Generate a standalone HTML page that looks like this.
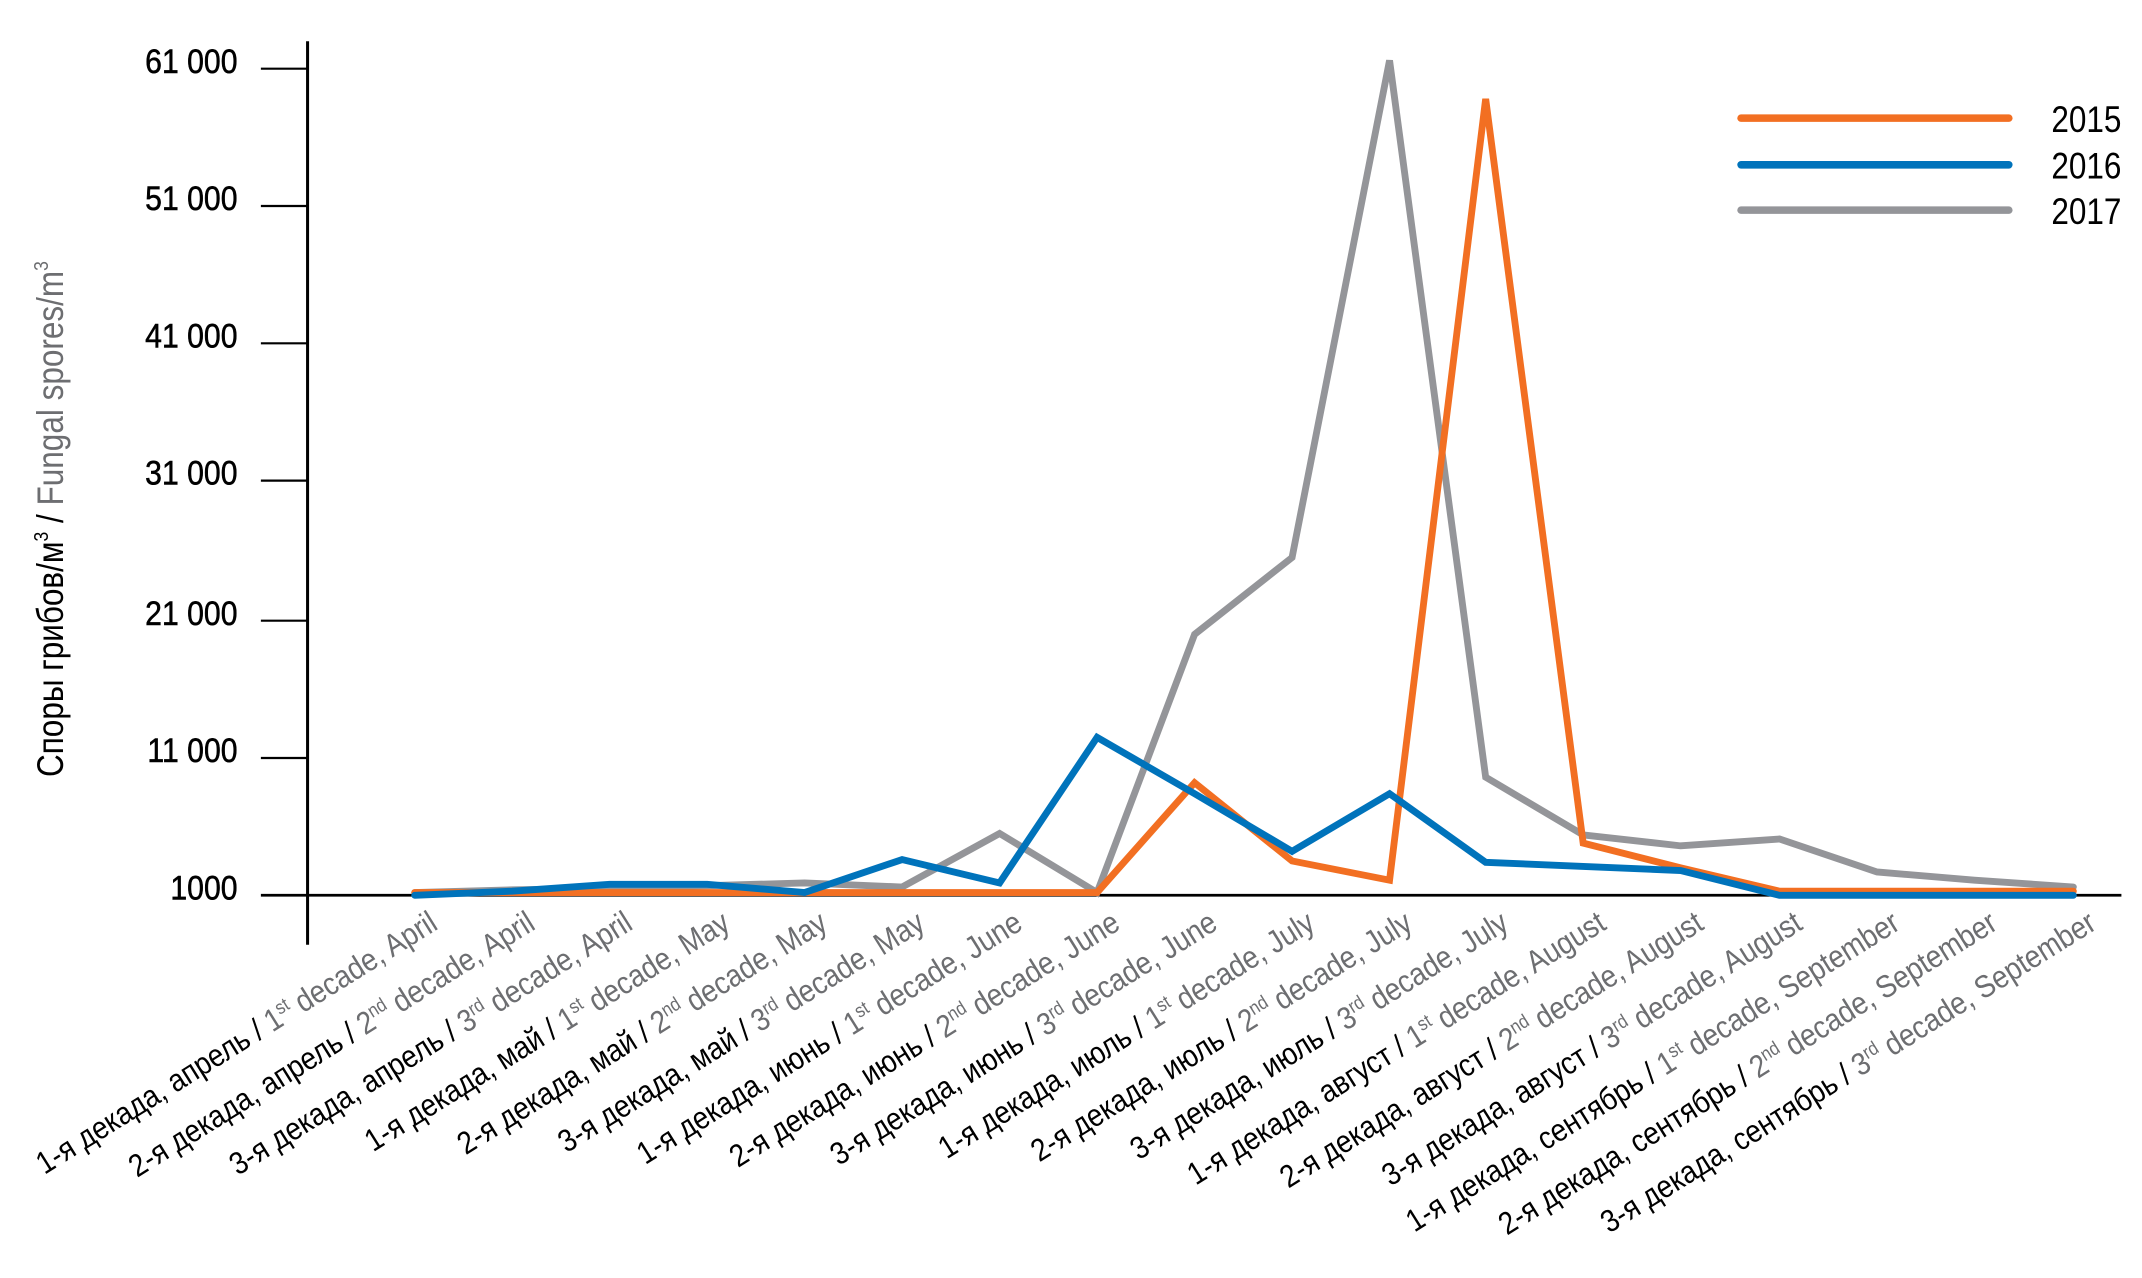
<!DOCTYPE html>
<html><head><meta charset="utf-8"><style>
html,body{margin:0;padding:0;background:#fff;}
svg{display:block;}
text{font-family:"Liberation Sans",sans-serif;}
.lbl{font-size:23px;fill:#000;}
.en{fill:#6d6e71;}
</style></head><body>
<svg width="2142" height="1278" viewBox="0 0 1560 930.7" xmlns="http://www.w3.org/2000/svg">
<rect width="1560" height="931" fill="#fff"/>
<line x1="224" y1="30" x2="224" y2="688" stroke="#000" stroke-width="2.2"/>
<line x1="190" y1="652" x2="1545" y2="652" stroke="#000" stroke-width="2"/>
<g stroke="#000" stroke-width="1.6">
<line x1="190" y1="50" x2="224" y2="50"/><line x1="190" y1="150" x2="224" y2="150"/>
<line x1="190" y1="250" x2="224" y2="250"/><line x1="190" y1="350" x2="224" y2="350"/>
<line x1="190" y1="452" x2="224" y2="452"/><line x1="190" y1="552" x2="224" y2="552"/>
</g>
<g font-size="25" text-anchor="end" fill="#000" stroke="#000" stroke-width="0.4">
<text transform="translate(173,53) scale(0.88,1)">61 000</text>
<text transform="translate(173,153) scale(0.88,1)">51 000</text>
<text transform="translate(173,253) scale(0.88,1)">41 000</text>
<text transform="translate(173,353) scale(0.88,1)">31 000</text>
<text transform="translate(173,455) scale(0.88,1)">21 000</text>
<text transform="translate(173,555) scale(0.88,1)">11 000</text>
<text transform="translate(173,655) scale(0.88,1)">1000</text>
</g>
<text transform="translate(46,378) rotate(-90) scale(0.85,1)" text-anchor="middle" font-size="27"><tspan>Споры грибов/м</tspan><tspan font-size="15" dy="-11">3</tspan><tspan dy="11"> / </tspan><tspan fill="#6d6e71">Fungal spores/m</tspan><tspan fill="#6d6e71" font-size="15" dy="-11">3</tspan></text>
<g fill="none" stroke-width="5" stroke-linejoin="miter" stroke-linecap="round">
<polyline stroke="#949599" points="302,650 373,648 444,647 515,645 586,643 657,646 728,607 799,650 870,462 941,406 1012,44 1082,566 1153,608 1224,616 1296,611 1367,635 1438,641 1510,646"/>
<polyline stroke="#f26f22" points="302,650 373,650 444,650 515,650 586,650 657,650 728,650 799,650 870,570 941,627 1012,641 1082,72 1153,614 1224,632 1296,649 1367,649 1438,649 1510,649"/>
<polyline stroke="#0073bb" points="302,652 373,649 444,644 515,644 586,650 657,626 728,643 799,537 870,578 941,620 1012,578 1082,628 1153,631 1224,634 1296,652 1367,652 1438,652 1510,652"/>
</g>
<g stroke-width="5.5" stroke-linecap="round">
<line x1="1268" y1="86" x2="1463" y2="86" stroke="#f26f22"/>
<line x1="1268" y1="120" x2="1463" y2="120" stroke="#0073bb"/>
<line x1="1268" y1="153" x2="1463" y2="153" stroke="#949599"/>
</g>
<g font-size="27" text-anchor="end" fill="#000">
<text transform="translate(1545,96) scale(0.85,1)">2015</text>
<text transform="translate(1545,130) scale(0.85,1)">2016</text>
<text transform="translate(1545,163) scale(0.85,1)">2017</text>
</g>
<g class="lbl" text-anchor="end">
<text transform="translate(320,676) rotate(-32) scale(0.88,1)">1-я декада, апрель / <tspan class="en">1<tspan font-size="14" dy="-8">st</tspan><tspan dy="8"> decade, April</tspan></tspan></text>
<text transform="translate(391,676) rotate(-32) scale(0.88,1)">2-я декада, апрель / <tspan class="en">2<tspan font-size="14" dy="-8">nd</tspan><tspan dy="8"> decade, April</tspan></tspan></text>
<text transform="translate(462,676) rotate(-32) scale(0.88,1)">3-я декада, апрель / <tspan class="en">3<tspan font-size="14" dy="-8">rd</tspan><tspan dy="8"> decade, April</tspan></tspan></text>
<text transform="translate(533,676) rotate(-32) scale(0.88,1)">1-я декада, май / <tspan class="en">1<tspan font-size="14" dy="-8">st</tspan><tspan dy="8"> decade, May</tspan></tspan></text>
<text transform="translate(604,676) rotate(-32) scale(0.88,1)">2-я декада, май / <tspan class="en">2<tspan font-size="14" dy="-8">nd</tspan><tspan dy="8"> decade, May</tspan></tspan></text>
<text transform="translate(675,676) rotate(-32) scale(0.88,1)">3-я декада, май / <tspan class="en">3<tspan font-size="14" dy="-8">rd</tspan><tspan dy="8"> decade, May</tspan></tspan></text>
<text transform="translate(746,676) rotate(-32) scale(0.88,1)">1-я декада, июнь / <tspan class="en">1<tspan font-size="14" dy="-8">st</tspan><tspan dy="8"> decade, June</tspan></tspan></text>
<text transform="translate(817,676) rotate(-32) scale(0.88,1)">2-я декада, июнь / <tspan class="en">2<tspan font-size="14" dy="-8">nd</tspan><tspan dy="8"> decade, June</tspan></tspan></text>
<text transform="translate(888,676) rotate(-32) scale(0.88,1)">3-я декада, июнь / <tspan class="en">3<tspan font-size="14" dy="-8">rd</tspan><tspan dy="8"> decade, June</tspan></tspan></text>
<text transform="translate(959,676) rotate(-32) scale(0.88,1)">1-я декада, июль / <tspan class="en">1<tspan font-size="14" dy="-8">st</tspan><tspan dy="8"> decade, July</tspan></tspan></text>
<text transform="translate(1030,676) rotate(-32) scale(0.88,1)">2-я декада, июль / <tspan class="en">2<tspan font-size="14" dy="-8">nd</tspan><tspan dy="8"> decade, July</tspan></tspan></text>
<text transform="translate(1100,676) rotate(-32) scale(0.88,1)">3-я декада, июль / <tspan class="en">3<tspan font-size="14" dy="-8">rd</tspan><tspan dy="8"> decade, July</tspan></tspan></text>
<text transform="translate(1171,676) rotate(-32) scale(0.88,1)">1-я декада, август / <tspan class="en">1<tspan font-size="14" dy="-8">st</tspan><tspan dy="8"> decade, August</tspan></tspan></text>
<text transform="translate(1242,676) rotate(-32) scale(0.88,1)">2-я декада, август / <tspan class="en">2<tspan font-size="14" dy="-8">nd</tspan><tspan dy="8"> decade, August</tspan></tspan></text>
<text transform="translate(1314,676) rotate(-32) scale(0.88,1)">3-я декада, август / <tspan class="en">3<tspan font-size="14" dy="-8">rd</tspan><tspan dy="8"> decade, August</tspan></tspan></text>
<text transform="translate(1385,676) rotate(-32) scale(0.88,1)">1-я декада, сентябрь / <tspan class="en">1<tspan font-size="14" dy="-8">st</tspan><tspan dy="8"> decade, September</tspan></tspan></text>
<text transform="translate(1456,676) rotate(-32) scale(0.88,1)">2-я декада, сентябрь / <tspan class="en">2<tspan font-size="14" dy="-8">nd</tspan><tspan dy="8"> decade, September</tspan></tspan></text>
<text transform="translate(1528,676) rotate(-32) scale(0.88,1)">3-я декада, сентябрь / <tspan class="en">3<tspan font-size="14" dy="-8">rd</tspan><tspan dy="8"> decade, September</tspan></tspan></text>
</g>
</svg>
</body></html>
